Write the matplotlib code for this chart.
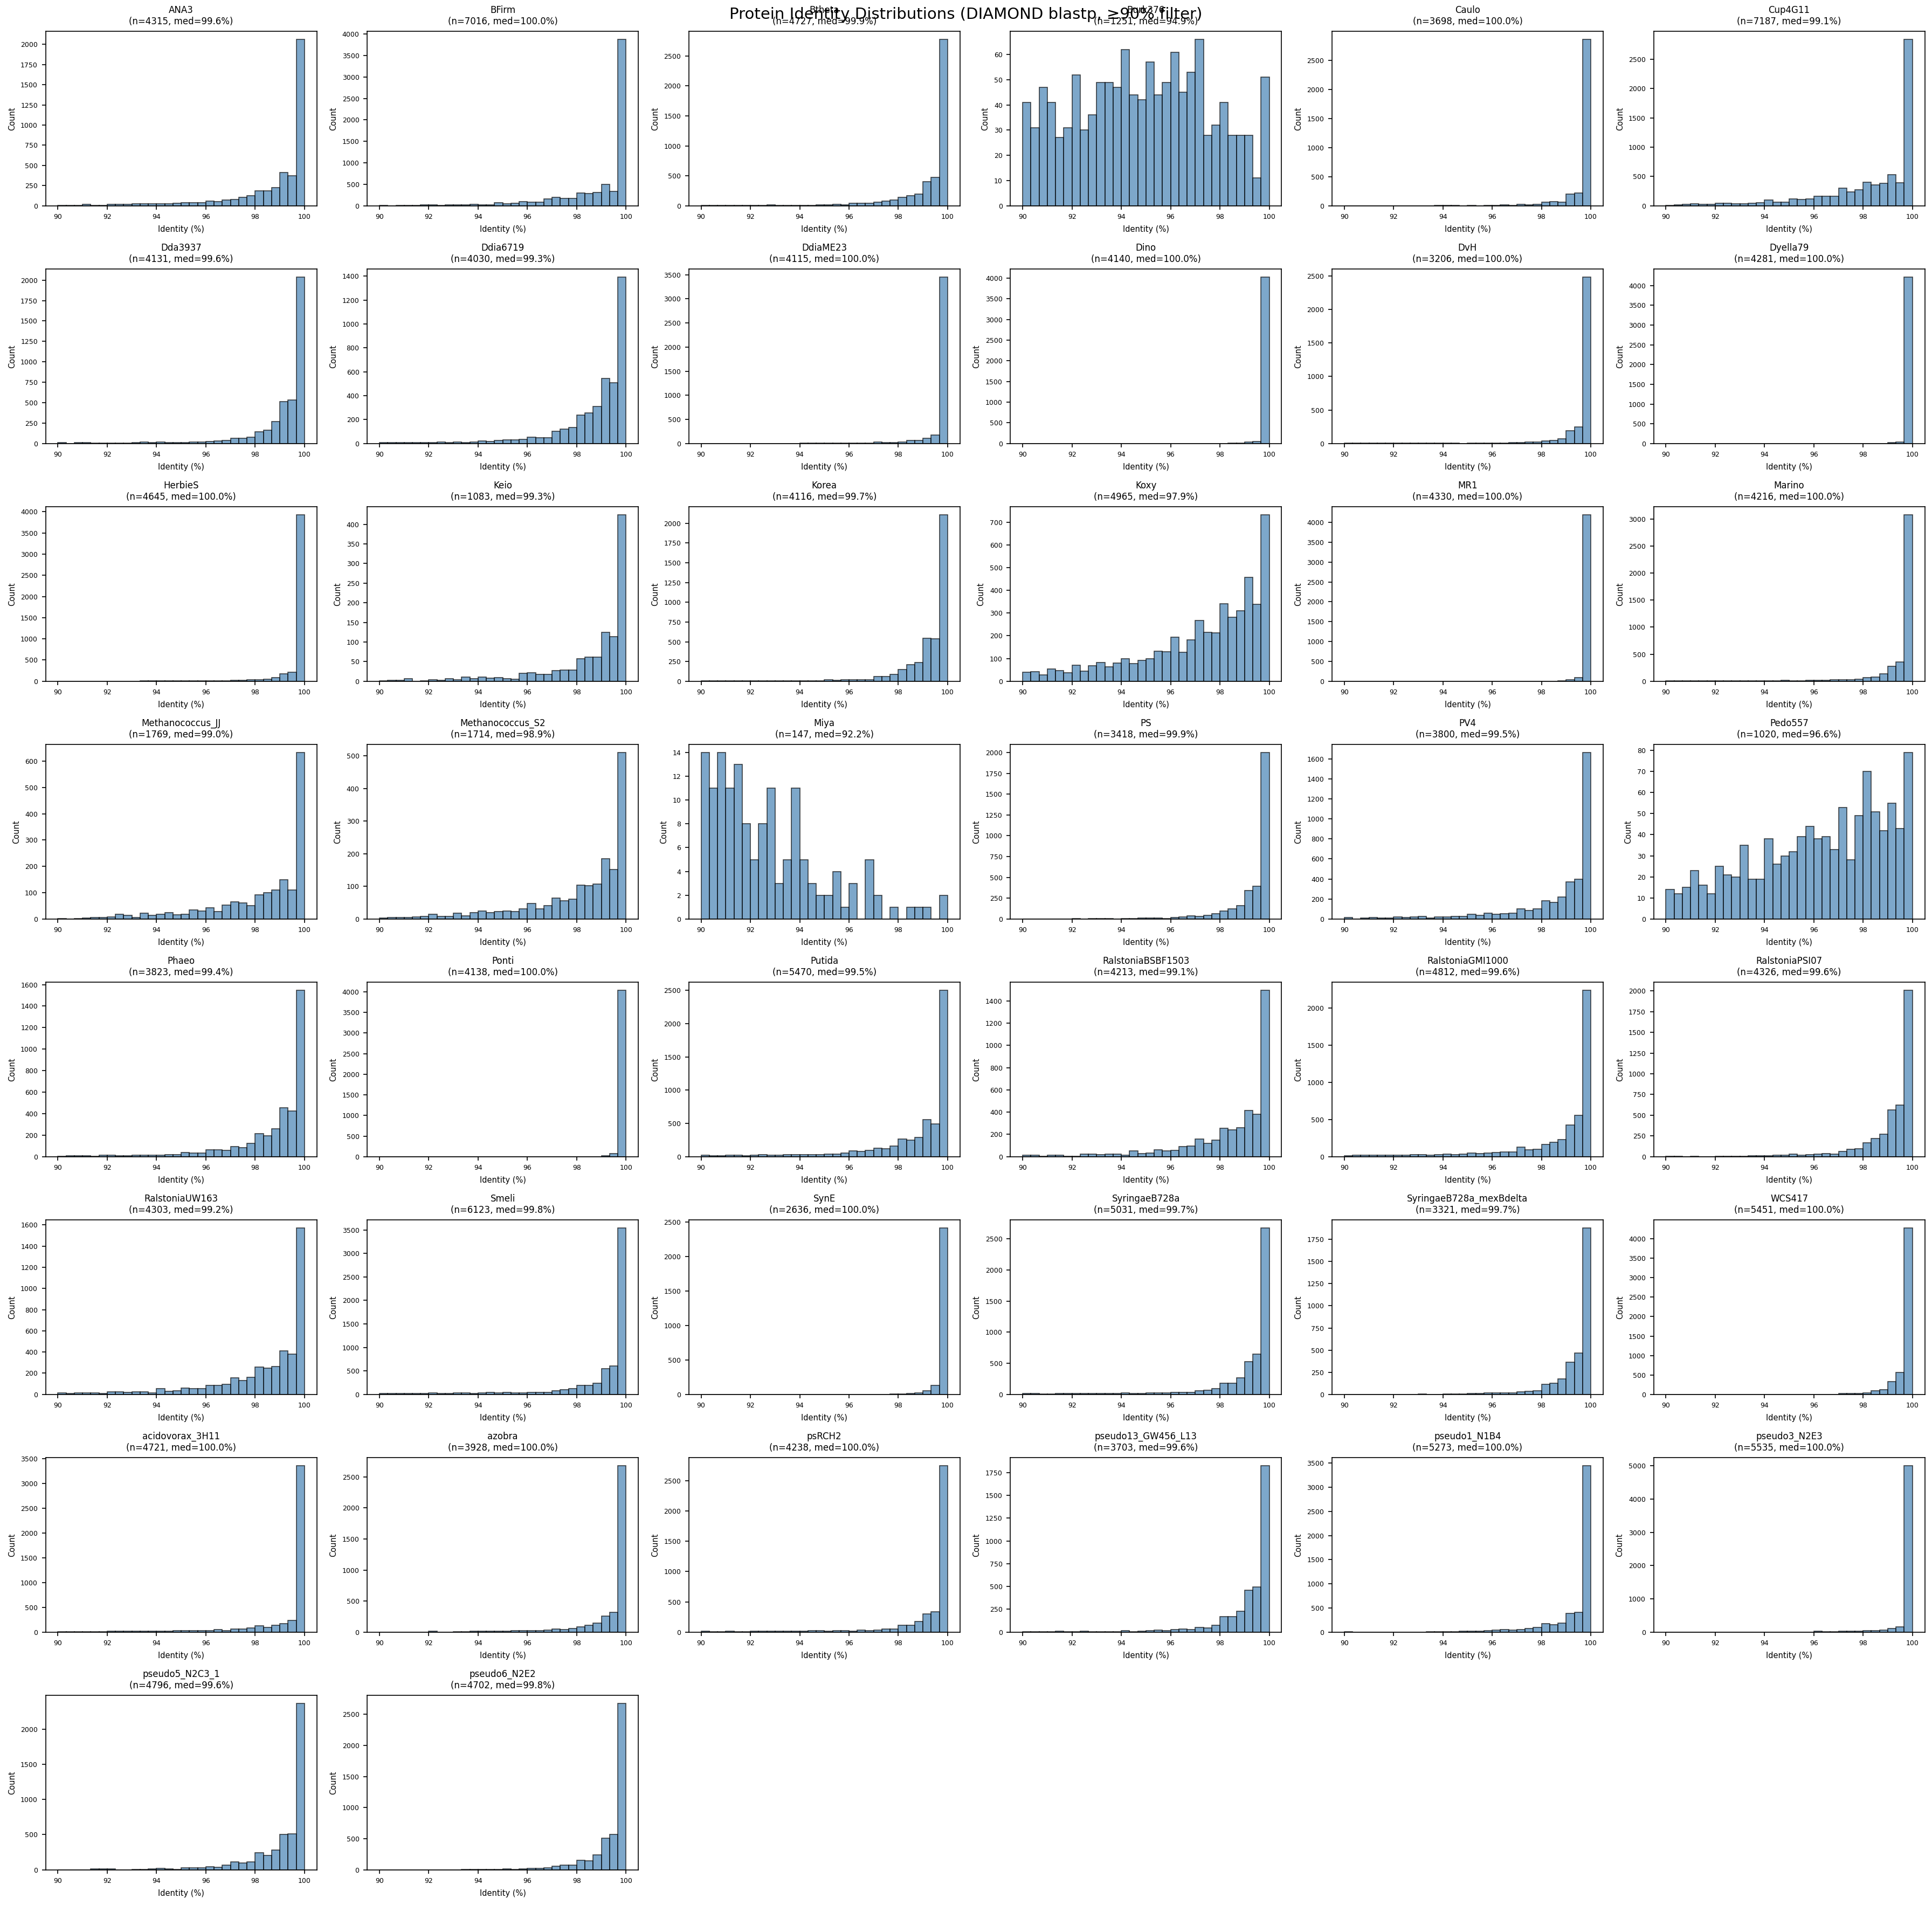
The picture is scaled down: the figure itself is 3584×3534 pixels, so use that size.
import matplotlib
matplotlib.use("Agg")
import matplotlib.pyplot as plt
from matplotlib.ticker import MaxNLocator
import numpy as np

# ---------------- data ----------------
names = ["ANA3", "BFirm", "Btheta", "Burk376", "Caulo", "Cup4G11",
         "Dda3937", "Ddia6719", "DdiaME23", "Dino", "DvH", "Dyella79",
         "HerbieS", "Keio", "Korea", "Koxy", "MR1", "Marino",
         "Methanococcus_JJ", "Methanococcus_S2", "Miya", "PS", "PV4", "Pedo557",
         "Phaeo", "Ponti", "Putida", "RalstoniaBSBF1503", "RalstoniaGMI1000", "RalstoniaPSI07",
         "RalstoniaUW163", "Smeli", "SynE", "SyringaeB728a", "SyringaeB728a_mexBdelta", "WCS417",
         "acidovorax_3H11", "azobra", "psRCH2", "pseudo13_GW456_L13", "pseudo1_N1B4", "pseudo3_N2E3",
         "pseudo5_N2C3_1", "pseudo6_N2E2"]

n_proteins = [4315, 7016, 4727, 1251, 3698, 7187,
              4131, 4030, 4115, 4140, 3206, 4281,
              4645, 1083, 4116, 4965, 4330, 4216,
              1769, 1714, 147, 3418, 3800, 1020,
              3823, 4138, 5470, 4213, 4812, 4326,
              4303, 6123, 2636, 5031, 3321, 5451,
              4721, 3928, 4238, 3703, 5273, 5535,
              4796, 4702]

medians = [99.6, 100.0, 99.9, 94.9, 100.0, 99.1,
           99.6, 99.3, 100.0, 100.0, 100.0, 100.0,
           100.0, 99.3, 99.7, 97.9, 100.0, 100.0,
           99.0, 98.9, 92.2, 99.9, 99.5, 96.6,
           99.4, 100.0, 99.5, 99.1, 99.6, 99.6,
           99.2, 99.8, 100.0, 99.7, 99.7, 100.0,
           100.0, 100.0, 100.0, 99.6, 100.0, 100.0,
           99.6, 99.8]

bin_lo, bin_hi, n_bins = 90, 100, 30

ANA3 = [8, 8, 8, 15, 8, 8, 20, 15, 15, 22, 22, 22, 22, 22, 30, 36, 36, 36, 60, 54,
        74, 80, 107, 127, 185, 185, 227, 412, 375, 2062]
BFirm = [10, 3, 10, 10, 10, 25, 25, 10, 25, 25, 25, 35, 25, 25, 70, 50, 60, 100, 90, 90,
         165, 200, 170, 176, 300, 290, 315, 500, 340, 3874]
Btheta = [5, 5, 5, 5, 5, 5, 10, 5, 15, 5, 5, 5, 5, 8, 12, 12, 21, 15, 40, 45,
          40, 60, 80, 100, 140, 165, 200, 405, 471, 2776]
Burk376 = [41, 31, 47, 41, 27, 31, 52, 30, 36, 49, 49, 47, 62, 44, 42, 57, 44, 49, 61, 45,
           53, 66, 28, 32, 41, 28, 28, 28, 11, 51]
Caulo = [0, 0, 0, 0, 0, 0, 0, 0, 0, 0, 0, 4, 5, 4, 1, 5, 2, 5, 6, 14,
         8, 28, 18, 27, 65, 75, 65, 205, 215, 2855]
Cup4G11 = [6, 12, 22, 31, 22, 22, 40, 40, 31, 31, 40, 50, 102, 65, 65, 121, 108, 114, 167, 167,
           167, 303, 241, 275, 402, 356, 380, 535, 396, 2840]
Dda3937 = [9, 0, 9, 9, 3, 3, 3, 3, 5, 9, 15, 9, 20, 9, 9, 9, 20, 15, 26, 31,
           40, 66, 66, 75, 141, 165, 271, 511, 533, 2037]
Ddia6719 = [8, 6, 6, 8, 6, 8, 6, 11, 8, 11, 8, 14, 20, 15, 26, 29, 29, 33, 53, 47,
            47, 101, 119, 132, 236, 254, 308, 546, 507, 1391]
DdiaME23 = [1, 1, 1, 1, 1, 1, 2, 1, 1, 2, 1, 2, 11, 11, 3, 7, 7, 7, 11, 11,
            11, 34, 15, 15, 26, 60, 60, 112, 179, 3451]
Dino = [1, 0, 0, 1, 0, 0, 1, 0, 1, 0, 1, 1, 0, 1, 1, 1, 1, 1, 2, 1,
        2, 2, 2, 3, 3, 4, 5, 35, 50, 4025]
DvH = [2, 2, 2, 2, 2, 2, 2, 2, 2, 2, 6, 2, 6, 2, 1, 6, 2, 5, 6, 8,
       11, 13, 19, 24, 38, 48, 67, 188, 249, 2481]
Dyella79 = [1, 0, 1, 0, 1, 0, 1, 0, 1, 0, 1, 0, 1, 0, 1, 1, 1, 1, 1, 1,
            1, 1, 1, 2, 2, 2, 3, 18, 36, 4214]
HerbieS = [2, 2, 2, 2, 2, 2, 2, 2, 2, 2, 12, 8, 12, 8, 8, 8, 12, 12, 12, 8,
           12, 17, 17, 30, 38, 42, 81, 170, 208, 3928]
Keio = [1, 2, 3, 6, 0, 1, 4, 2, 6, 4, 10, 6, 10, 8, 9, 7, 5, 20, 22, 17,
        18, 27, 28, 28, 58, 62, 62, 124, 114, 424]
Korea = [2, 4, 8, 8, 2, 2, 6, 2, 2, 2, 2, 6, 6, 2, 2, 16, 9, 16, 20, 20,
         20, 57, 57, 84, 148, 212, 235, 542, 535, 2107]
Koxy = [39, 43, 29, 55, 48, 38, 70, 45, 67, 83, 64, 81, 100, 78, 93, 100, 133, 130, 195, 127,
        182, 267, 216, 214, 342, 282, 311, 458, 339, 732]
MR1 = [0, 0, 0, 0, 0, 0, 0, 0, 0, 0, 0, 0, 0, 1, 0, 0, 1, 0, 1, 0,
       1, 1, 1, 2, 2, 3, 5, 32, 91, 4190]
Marino = [3, 3, 3, 3, 3, 3, 3, 3, 3, 3, 3, 3, 3, 3, 13, 3, 3, 13, 13, 13,
          23, 23, 30, 40, 70, 80, 140, 279, 359, 3077]
Methanococcus_JJ = [2, 0, 1, 3, 6, 6, 8, 18, 14, 6, 23, 14, 18, 25, 16, 18, 35, 31, 42, 29,
                    53, 66, 62, 51, 92, 99, 111, 150, 111, 633]
Methanococcus_S2 = [3, 4, 4, 4, 7, 8, 15, 8, 8, 18, 10, 19, 25, 20, 22, 24, 22, 31, 47, 31,
                    41, 64, 55, 61, 104, 102, 107, 185, 152, 510]
Miya = [14, 11, 14, 11, 13, 8, 5, 8, 11, 3, 5, 11, 5, 3, 2, 2, 4, 1, 3, 0,
        5, 2, 0, 1, 0, 1, 1, 1, 0, 2]
PS = [1, 1, 1, 1, 1, 1, 5, 1, 5, 5, 5, 1, 3, 5, 10, 10, 12, 8, 15, 25,
      35, 30, 45, 60, 95, 120, 160, 340, 393, 2000]
PV4 = [13, 0, 7, 13, 7, 7, 22, 13, 22, 27, 7, 18, 22, 27, 27, 45, 38, 59, 45, 50,
       60, 99, 86, 99, 180, 167, 218, 372, 400, 1663]
Pedo557 = [14, 12, 15, 23, 16, 12, 25, 21, 20, 35, 19, 19, 38, 26, 30, 32, 39, 44, 38, 39,
           33, 53, 28, 49, 70, 51, 42, 55, 43, 79]
Phaeo = [3, 7, 7, 7, 3, 12, 15, 7, 7, 12, 12, 12, 15, 20, 20, 37, 32, 32, 62, 65,
         59, 92, 85, 122, 212, 192, 257, 456, 423, 1547]
Ponti = [1, 0, 0, 0, 0, 0, 0, 0, 0, 0, 0, 0, 0, 0, 0, 0, 0, 0, 0, 0,
         0, 0, 0, 0, 0, 0, 2, 17, 74, 4035]
Putida = [19, 11, 11, 19, 19, 14, 19, 27, 19, 19, 27, 27, 27, 27, 32, 41, 41, 57, 86, 81,
          95, 130, 122, 157, 262, 251, 289, 554, 489, 2500]
RalstoniaBSBF1503 = [11, 11, 6, 15, 15, 6, 6, 23, 23, 19, 23, 23, 11, 53, 29, 34, 60, 53, 57, 89,
                     97, 160, 121, 150, 254, 242, 262, 415, 380, 1494]
RalstoniaGMI1000 = [10, 17, 17, 17, 17, 22, 17, 17, 29, 29, 22, 24, 34, 29, 34, 46, 44, 51, 58, 61,
                    65, 131, 92, 99, 165, 194, 230, 424, 555, 2242]
RalstoniaPSI07 = [2, 6, 1, 6, 1, 1, 2, 2, 2, 4, 9, 9, 9, 15, 15, 33, 15, 22, 30, 39,
                  30, 61, 89, 95, 167, 217, 274, 562, 623, 2007]
RalstoniaUW163 = [12, 7, 12, 12, 15, 7, 25, 25, 20, 24, 24, 15, 53, 31, 36, 58, 53, 53, 87, 87,
                  98, 155, 129, 160, 258, 246, 261, 413, 379, 1571]
Smeli = [15, 15, 15, 15, 15, 15, 27, 15, 15, 27, 27, 15, 27, 38, 27, 46, 27, 27, 46, 46,
         46, 80, 96, 119, 187, 195, 233, 543, 601, 3539]
SynE = [0, 0, 0, 0, 0, 0, 0, 0, 0, 0, 0, 0, 0, 0, 0, 0, 0, 0, 0, 0,
        1, 1, 1, 2, 3, 10, 18, 55, 133, 2411]
SyringaeB728a = [12, 12, 6, 6, 12, 12, 12, 12, 12, 12, 12, 12, 20, 12, 12, 26, 26, 20, 35, 35,
                 35, 61, 69, 90, 176, 182, 263, 529, 645, 2673]
SyringaeB728a_mexBdelta = [1, 1, 1, 1, 1, 1, 1, 1, 1, 4, 1, 1, 4, 4, 4, 8, 8, 14, 14, 14,
                           18, 28, 37, 43, 112, 128, 173, 365, 467, 1878]
WCS417 = [1, 1, 1, 1, 1, 1, 1, 1, 1, 1, 1, 1, 1, 1, 1, 1, 1, 1, 1, 1,
          2, 18, 18, 18, 32, 97, 116, 333, 564, 4277]
acidovorax_3H11 = [3, 12, 3, 12, 3, 3, 15, 15, 15, 15, 15, 15, 15, 15, 25, 25, 33, 25, 33, 51,
                   33, 65, 65, 87, 123, 94, 134, 174, 232, 3355]
azobra = [2, 2, 2, 2, 2, 2, 12, 1, 1, 6, 6, 12, 12, 12, 12, 12, 20, 20, 26, 26,
          35, 52, 41, 61, 87, 107, 148, 255, 316, 2680]
psRCH2 = [12, 3, 3, 12, 3, 3, 12, 12, 12, 12, 12, 12, 12, 21, 21, 12, 21, 21, 12, 36,
          21, 36, 53, 53, 116, 116, 172, 303, 338, 2747]
pseudo13_GW456_L13 = [2, 2, 2, 2, 8, 2, 2, 8, 2, 2, 2, 2, 14, 4, 8, 14, 24, 18, 30, 36,
                      28, 53, 45, 73, 168, 172, 227, 458, 497, 1825]
pseudo1_N1B4 = [7, 1, 1, 1, 1, 1, 1, 1, 1, 1, 7, 7, 7, 7, 15, 15, 15, 26, 37, 56,
                37, 52, 78, 93, 179, 156, 190, 383, 406, 3444]
pseudo3_N2E3 = [1, 1, 1, 1, 1, 1, 1, 1, 1, 1, 1, 1, 1, 1, 1, 1, 1, 1, 22, 5,
                15, 22, 22, 22, 38, 38, 65, 114, 151, 5000]
pseudo5_N2C3_1 = [0, 2, 2, 2, 10, 10, 10, 2, 2, 8, 8, 15, 20, 15, 8, 25, 25, 30, 45, 38,
                  70, 110, 100, 115, 240, 205, 285, 505, 515, 2363]
pseudo6_N2E2 = [1, 1, 1, 1, 1, 1, 1, 1, 1, 1, 5, 8, 8, 8, 8, 15, 8, 15, 25, 25,
                35, 55, 75, 80, 155, 145, 240, 510, 570, 2674]

counts = [ANA3, BFirm, Btheta, Burk376, Caulo, Cup4G11,
          Dda3937, Ddia6719, DdiaME23, Dino, DvH, Dyella79,
          HerbieS, Keio, Korea, Koxy, MR1, Marino,
          Methanococcus_JJ, Methanococcus_S2, Miya, PS, PV4, Pedo557,
          Phaeo, Ponti, Putida, RalstoniaBSBF1503, RalstoniaGMI1000, RalstoniaPSI07,
          RalstoniaUW163, Smeli, SynE, SyringaeB728a, SyringaeB728a_mexBdelta, WCS417,
          acidovorax_3H11, azobra, psRCH2, pseudo13_GW456_L13, pseudo1_N1B4, pseudo3_N2E3,
          pseudo5_N2C3_1, pseudo6_N2E2]

# ---------------- plot ----------------
DPI = 150
fig = plt.figure(figsize=(3584 / DPI, 3534 / DPI), dpi=DPI)
nrows, ncols = 8, 6
axes = fig.subplots(nrows, ncols)
fig.subplots_adjust(left=0.0236, right=0.99625, top=0.98367, bottom=0.01846,
                    wspace=0.186, hspace=0.361)

edges = np.linspace(bin_lo, bin_hi, n_bins + 1)
widths = np.diff(edges)

for i, ax in enumerate(axes.flat):
    if i >= len(names):
        ax.remove()
        continue
    ax.bar(edges[:-1], counts[i], width=widths, align="edge",
           color="steelblue", alpha=0.7, edgecolor="black", linewidth=0.8)
    ax.set_title(f"{names[i]}\n(n={n_proteins[i]}, med={medians[i]:.1f}%)", fontsize=8)
    ax.set_xlabel("Identity (%)", fontsize=7)
    ax.set_ylabel("Count", fontsize=7)
    ax.tick_params(labelsize=6)
    ax.xaxis.set_major_locator(MaxNLocator(nbins=10, steps=[1, 2, 2.5, 5, 10]))
    ax.yaxis.set_major_locator(MaxNLocator(nbins=9, steps=[1, 2, 2.5, 5, 10]))

fig.suptitle("Protein Identity Distributions (DIAMOND blastp, \u226590% filter)",
             fontsize=14, x=0.5, y=1 - 27 / 3534, va="center")

fig.savefig("out.png", dpi=DPI)
